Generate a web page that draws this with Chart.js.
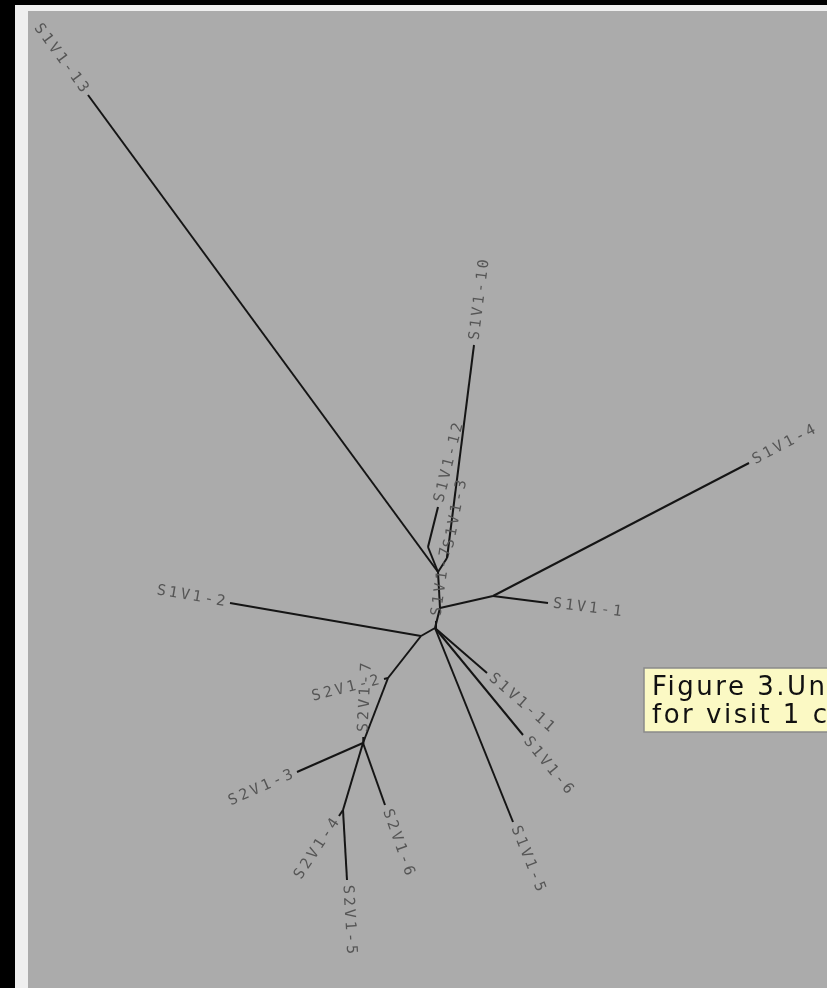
<!DOCTYPE html>
<html>
<head>
<meta charset="utf-8">
<title>Unrooted tree</title>
<script src="https://cdn.jsdelivr.net/npm/chart.js@4.4.0/dist/chart.umd.min.js"></script>
<style>
  html, body { margin: 0; padding: 0; background: #000; }
  canvas { display: block; }
</style>
</head>
<body>
<canvas id="tree" width="827" height="988"></canvas>
<script>
// tree nodes (layout units)
const innerNames = ["r", "d", "b", "c", "e", "t1", "a", "top", "n10", "n12"];
const innerX     = [435, 421, 388, 363, 343, 440, 493, 438, 447, 428];
const innerY     = [628, 636, 678, 743, 810, 608, 596, 572, 558, 547];

const innerFrom = ["r", "d", "b", "c", "r",  "t1", "t1",  "top", "top"];
const innerTo   = ["d", "b", "c", "e", "t1", "a",  "top", "n10", "n12"];

const leafNames  = ["S1V1-13", "S1V1-10", "S1V1-3", "S1V1-12", "S1V1-4", "S1V1-1", "S1V1-7", "S1V1-2",
                    "S1V1-11", "S1V1-6", "S1V1-5", "S2V1-2", "S2V1-7", "S2V1-3", "S2V1-6", "S2V1-4", "S2V1-5"];
const leafParent = ["top", "n10", "n10", "n12", "a", "a", "r", "d",
                    "r", "r", "r", "b", "c", "c", "c", "e", "e"];
const leafX      = [88, 474, 448, 438, 749, 548, 436, 230, 487, 523, 513, 384, 363.3, 297, 385, 339, 347];
const leafY      = [95, 345, 553, 507, 463, 603, 621, 603, 673, 735, 822, 679, 737, 772, 805, 816, 880];

const captionLines = ["Figure 3.Unrooted tree", "for visit 1 clones"];

const pos = {};
innerNames.forEach((n, i) => pos[n] = { x: innerX[i], y: innerY[i] });
leafNames.forEach((n, i) => pos[n] = { x: leafX[i], y: leafY[i] });

const datasets = [];
innerFrom.forEach((f, i) => datasets.push({ data: [pos[f], pos[innerTo[i]]] }));
leafNames.forEach((n, i) => datasets.push({ data: [pos[leafParent[i]], pos[n]] }));

const frame = {
  id: 'frame',
  beforeDraw(chart) {
    const ctx = chart.ctx;
    ctx.save();
    ctx.fillStyle = '#000';
    ctx.fillRect(0, 0, chart.width, chart.height);
    ctx.fillStyle = '#efefef';
    ctx.fillRect(15, 5, chart.width - 15, chart.height - 5);
    ctx.fillStyle = '#ababab';
    ctx.fillRect(28, 11, chart.width - 28, chart.height - 11);
    ctx.restore();
  }
};

const tipLabels = {
  id: 'tipLabels',
  afterDatasetsDraw(chart) {
    const ctx = chart.ctx, sx = chart.scales.x, sy = chart.scales.y;
    ctx.save();
    ctx.font = '15px "DejaVu Sans Mono"';
    ctx.letterSpacing = '3px';
    ctx.fillStyle = '#555';
    ctx.textBaseline = 'middle';
    leafNames.forEach((n, i) => {
      const p = pos[leafParent[i]];
      const x0 = sx.getPixelForValue(p.x), y0 = sy.getPixelForValue(p.y);
      const x1 = sx.getPixelForValue(leafX[i]), y1 = sy.getPixelForValue(leafY[i]);
      const ang = Math.atan2(y1 - y0, x1 - x0);
      ctx.save();
      ctx.translate(x1, y1);
      if (Math.cos(ang) >= 0) {
        ctx.rotate(ang);
        ctx.textAlign = 'left';
        ctx.fillText(n, 5, 0);
      } else {
        ctx.rotate(ang + Math.PI);
        ctx.textAlign = 'right';
        ctx.fillText(n, -2, 0);
      }
      ctx.restore();
    });
    ctx.restore();
  }
};

const caption = {
  id: 'caption',
  afterDraw(chart) {
    const ctx = chart.ctx;
    ctx.save();
    ctx.fillStyle = '#fbf9c4';
    ctx.fillRect(644, 668, 200, 64);
    ctx.strokeStyle = '#8a8a8a';
    ctx.lineWidth = 1.5;
    ctx.strokeRect(644, 668, 200, 64);
    ctx.fillStyle = '#111';
    ctx.font = '26px "DejaVu Sans"';
    ctx.letterSpacing = '2.5px';
    ctx.textBaseline = 'alphabetic';
    captionLines.forEach((t, i) => ctx.fillText(t, 652, 695 + i * 28));
    ctx.restore();
  }
};

new Chart(document.getElementById('tree').getContext('2d'), {
  type: 'scatter',
  data: { datasets: datasets },
  options: {
    responsive: false,
    animation: false,
    devicePixelRatio: 1,
    events: [],
    layout: { padding: 0 },
    showLine: true,
    elements: {
      point: { radius: 0 },
      line: { borderColor: '#151515', borderWidth: 2, tension: 0 }
    },
    scales: {
      x: { type: 'linear', min: 0, max: 827, display: false },
      y: { type: 'linear', min: 0, max: 988, reverse: true, display: false }
    },
    plugins: { legend: { display: false }, tooltip: { enabled: false } }
  },
  plugins: [frame, tipLabels, caption]
});
</script>
</body>
</html>
